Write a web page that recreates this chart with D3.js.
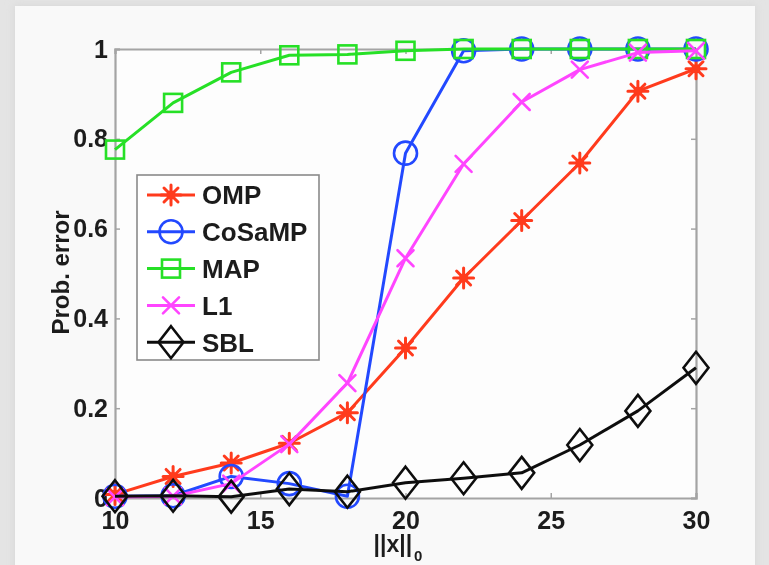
<!DOCTYPE html>
<html>
<head>
<meta charset="utf-8">
<script src="https://cdn.jsdelivr.net/npm/d3@7"></script>
<style>
  html, body { margin: 0; padding: 0; background: #e4e4e4; }
  svg { display: block; }
  text { font-family: "Liberation Sans", Arial, Helvetica, sans-serif; font-weight: bold; fill: #1e1e1e; }
</style>
</head>
<body>
<svg id="chart" width="769" height="565"></svg>
<script>
// sparsity levels ||x||_0
const sparsity = [10, 12, 14, 16, 18, 20, 22, 24, 26, 28, 30];

// probability of error per algorithm
const omp    = [0.008, 0.048, 0.078, 0.122, 0.19, 0.334, 0.49, 0.618, 0.746, 0.906, 0.956];
const cosamp = [0.004, 0.005, 0.048, 0.032, 0.004, 0.768, 0.996, 1, 1, 1, 1];
const map    = [0.776, 0.88, 0.948, 0.986, 0.988, 0.996, 1, 1, 1, 1, 1];
const l1     = [0.002, 0.004, 0.032, 0.12, 0.256, 0.534, 0.744, 0.882, 0.954, 0.992, 0.996];
const sbl    = [0.004, 0.005, 0.003, 0.02, 0.014, 0.034, 0.044, 0.056, 0.118, 0.194, 0.29];

const seriesNames = ['OMP', 'CoSaMP', 'MAP', 'L1', 'SBL'];
const xTicks = [10, 15, 20, 25, 30];
const yTicks = [0, 0.2, 0.4, 0.6, 0.8, 1];

const SERIES = [
  { name: seriesNames[0], values: omp,    color: '#ff3a1f', marker: 'star' },
  { name: seriesNames[1], values: cosamp, color: '#2448ff', marker: 'circle' },
  { name: seriesNames[2], values: map,    color: '#26e026', marker: 'square' },
  { name: seriesNames[3], values: l1,     color: '#ff45ff', marker: 'cross' },
  { name: seriesNames[4], values: sbl,    color: '#111111', marker: 'diamond' }
];

const svg = d3.select('#chart');
const W = 769, H = 565;

// soft blur to mimic the upscaled source
const defs = svg.append('defs');
defs.append('filter').attr('id', 'soft')
  .append('feGaussianBlur').attr('stdDeviation', 0.6);
const sh = defs.append('filter').attr('id', 'shadow').attr('x', '-5%').attr('y', '-5%').attr('width', '110%').attr('height', '110%');
sh.append('feGaussianBlur').attr('stdDeviation', 4);

// page panel
svg.append('rect').attr('width', W).attr('height', H).attr('fill', '#e4e4e4');
svg.append('rect').attr('x', 14).attr('y', 5).attr('width', 742).attr('height', 570)
  .attr('fill', '#d8d8d8').attr('filter', 'url(#shadow)');
svg.append('rect').attr('x', 15).attr('y', 6).attr('width', 740).attr('height', 570)
  .attr('fill', '#f9f9f9');

const g = svg.append('g').attr('filter', 'url(#soft)');

const plot = { left: 115, right: 696, top: 49, bottom: 498 };
const x = d3.scaleLinear().domain([10, 30]).range([plot.left, plot.right]);
const y = d3.scaleLinear().domain([0, 1]).range([plot.bottom, plot.top]);

// plot background
g.append('rect')
  .attr('x', plot.left).attr('y', plot.top)
  .attr('width', plot.right - plot.left).attr('height', plot.bottom - plot.top)
  .attr('fill', '#fdfdfd');

// axes (MATLAB box with inward ticks)
const axColor = '#a4a4a4';
const tickLen = 5;
const axL = g.append('g').attr('transform', `translate(${plot.left},0)`)
  .call(d3.axisLeft(y).tickValues(yTicks).tickSize(-tickLen).tickPadding(tickLen + 4)
    .tickFormat(d3.format('~g')));
const axR = g.append('g').attr('transform', `translate(${plot.right},0)`)
  .call(d3.axisRight(y).tickValues(yTicks).tickSize(-tickLen).tickFormat(''));
const axB = g.append('g').attr('transform', `translate(0,${plot.bottom})`)
  .call(d3.axisBottom(x).tickValues(xTicks).tickSize(-tickLen).tickPadding(11));
const axT = g.append('g').attr('transform', `translate(0,${plot.top})`)
  .call(d3.axisTop(x).tickValues(xTicks).tickSize(-tickLen).tickFormat(''));

[axL, axR, axB, axT].forEach(a => {
  a.select('.domain').attr('stroke', axColor).attr('stroke-width', 2.2);
  a.selectAll('.tick line').attr('stroke', axColor).attr('stroke-width', 1.5);
  a.selectAll('text').attr('font-size', 25).attr('fill', '#1e1e1e')
    .attr('font-family', '"Liberation Sans", Arial, sans-serif').attr('font-weight', 'bold');
});
axB.selectAll('text').attr('dy', '0.8em');
axL.selectAll('text').attr('dx', '2');

// axis labels
g.append('text')
  .attr('transform', `translate(69,${(plot.top + plot.bottom) / 2 - 1}) rotate(-90)`)
  .attr('text-anchor', 'middle')
  .attr('font-size', 24)
  .text('Prob. error');

const xl = g.append('text')
  .attr('x', 398).attr('y', 552)
  .attr('text-anchor', 'middle')
  .attr('font-size', 23);
xl.append('tspan').text('||x||');
xl.append('tspan').attr('dy', 9).attr('dx', 2).attr('font-size', 15).text('0');

// marker drawing
function drawMarker(sel, type, color) {
  const sw = 2.6;
  if (type === 'circle') {
    sel.append('circle').attr('r', 11.5).attr('fill', 'none')
      .attr('stroke', color).attr('stroke-width', sw);
  } else if (type === 'square') {
    sel.append('rect').attr('x', -9).attr('y', -9).attr('width', 18).attr('height', 18)
      .attr('fill', 'none').attr('stroke', color).attr('stroke-width', sw);
  } else if (type === 'diamond') {
    sel.append('path').attr('d', 'M0,-16L12.5,0L0,16L-12.5,0Z')
      .attr('fill', 'none').attr('stroke', color).attr('stroke-width', sw);
  } else if (type === 'cross') {
    sel.append('path').attr('d', 'M-8,-8L8,8M-8,8L8,-8')
      .attr('stroke', color).attr('stroke-width', sw).attr('stroke-linecap', 'round');
  } else if (type === 'star') {
    sel.append('path').attr('d', 'M-10,0L10,0M0,-10L0,10M-7,-7L7,7M-7,7L7,-7')
      .attr('stroke', color).attr('stroke-width', 3).attr('stroke-linecap', 'round');
    sel.append('circle').attr('r', 4.5).attr('fill', color);
  }
}

const line = d3.line().x((d, i) => x(sparsity[i])).y(d => y(d));

const clipId = 'plotclip';
defs.append('clipPath').attr('id', clipId).append('rect')
  .attr('x', plot.left - 20).attr('y', plot.top - 20)
  .attr('width', plot.right - plot.left + 40).attr('height', plot.bottom - plot.top + 40);

const dataG = g.append('g').attr('clip-path', `url(#${clipId})`);
SERIES.forEach(s => {
  const sg = dataG.append('g');
  sg.append('path').datum(s.values)
    .attr('d', line)
    .attr('fill', 'none')
    .attr('stroke', s.color)
    .attr('stroke-width', 3)
    .attr('stroke-linejoin', 'round');
  sg.selectAll('.mk').data(s.values).join('g')
    .attr('class', 'mk')
    .attr('transform', (d, i) => `translate(${x(sparsity[i])},${y(d)})`)
    .each(function () { drawMarker(d3.select(this), s.marker, s.color); });
});

// legend
const lg = g.append('g').attr('transform', 'translate(137,175)');
lg.append('rect').attr('width', 182).attr('height', 185)
  .attr('fill', '#ffffff').attr('stroke', '#8a8a8a').attr('stroke-width', 1.6);
SERIES.forEach((s, i) => {
  const row = lg.append('g').attr('transform', `translate(0,${20 + i * 36.8})`);
  row.append('line').attr('x1', 10).attr('x2', 58).attr('y1', 0).attr('y2', 0)
    .attr('stroke', s.color).attr('stroke-width', 3);
  const m = row.append('g').attr('transform', 'translate(34,0)');
  drawMarker(m, s.marker, s.color);
  row.append('text').attr('x', 65).attr('y', 0).attr('dy', '0.36em')
    .attr('font-size', 26).attr('font-weight', 'bold').attr('fill', '#1e1e1e').text(s.name);
});
</script>
</body>
</html>
